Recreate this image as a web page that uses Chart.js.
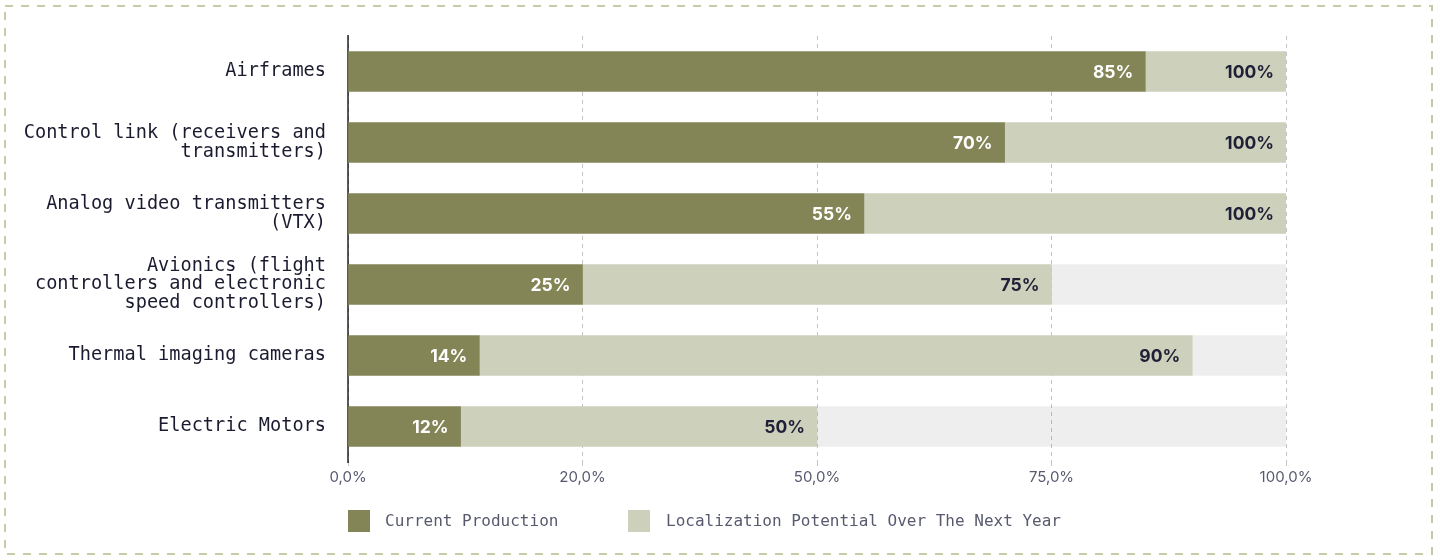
<!DOCTYPE html>
<html>
<head>
<meta charset="utf-8">
<script src="https://cdn.jsdelivr.net/npm/chart.js@4.4.0/dist/chart.umd.min.js"></script>
<style>
  html, body { margin: 0; padding: 0; background: #fff; }
  #wrap { position: relative; width: 1441px; height: 556px; }
  #legend { position: absolute; left: 0; top: 510px; width: 1441px; height: 22px;
            font-family: "DejaVu Sans Mono", monospace; font-size: 16px; color: #575a6e; }
  .item { position: absolute; top: 0; height: 22px; line-height: 22px; white-space: nowrap; }
  .box { position: absolute; top: 0; width: 22px; height: 22px; }
</style>
</head>
<body>
<div id="wrap">
  <canvas id="chart" width="1441" height="556"></canvas>
  <div id="legend"></div>
</div>
<script>
// categories (multi-line labels as in the picture)
const categories = [
  ['Airframes'],
  ['Control link (receivers and', 'transmitters)'],
  ['Analog video transmitters', '(VTX)'],
  ['Avionics (flight', 'controllers and electronic', 'speed controllers)'],
  ['Thermal imaging cameras'],
  ['Electric Motors']
];

// values in %
const currentProduction = [85, 70, 55, 25, 14, 12];
const localizationPotential = [100, 100, 100, 75, 90, 50];

// x tick labels as printed (one per 25-step tick)
const xTickLabels = ['0,0%', '20,0%', '50,0%', '75,0%', '100,0%'];

const seriesNames = ['Current Production', 'Localization Potential Over The Next Year'];
const COLORS = { current: '#838556', potential: '#cdd0bb', rest: 'rgba(0,0,0,0.067)' };

const extra = localizationPotential.map((v, i) => v - currentProduction[i]);
const rest = localizationPotential.map(v => 100 - v);

// dashed frame round the whole chart
const framePlugin = {
  id: 'frame',
  beforeDraw(chart) {
    const ctx = chart.ctx;
    ctx.save();
    ctx.strokeStyle = '#c5cca6';
    ctx.lineWidth = 2;
    ctx.setLineDash([8, 8]);
    ctx.strokeRect(5, 6, 1427, 548);
    ctx.restore();
  }
};

// value labels at the end of each segment
const valueLabels = {
  id: 'valueLabels',
  afterDatasetsDraw(chart) {
    const ctx = chart.ctx;
    ctx.save();
    ctx.font = '700 17.5px Inter, sans-serif';
    ctx.textAlign = 'right';
    ctx.textBaseline = 'middle';
    const m0 = chart.getDatasetMeta(0).data;
    const m1 = chart.getDatasetMeta(1).data;
    m0.forEach((bar, i) => {
      ctx.fillStyle = '#ffffff';
      ctx.fillText(currentProduction[i] + '%', bar.x - 12, bar.y + 1);
    });
    m1.forEach((bar, i) => {
      ctx.fillStyle = '#1f2037';
      ctx.fillText(localizationPotential[i] + '%', bar.x - 12, bar.y + 1);
    });
    ctx.restore();
  }
};

new Chart(document.getElementById('chart'), {
  type: 'bar',
  data: {
    labels: categories,
    datasets: [
      { label: seriesNames[0], data: currentProduction, backgroundColor: COLORS.current, barThickness: 40 },
      { label: seriesNames[1], data: extra, backgroundColor: COLORS.potential, barThickness: 40 },
      { label: 'rest', data: rest, backgroundColor: COLORS.rest, barThickness: 40 }
    ]
  },
  options: {
    indexAxis: 'y',
    responsive: false,
    animation: false,
    layout: { padding: { left: 0, right: 155, top: 36, bottom: 0 } },
    plugins: { legend: { display: false }, tooltip: { enabled: false } },
    scales: {
      x: {
        stacked: true,
        min: 0,
        max: 100,
        afterFit(scale) { scale.height = 94; },
        border: { display: false, dash: [4, 4] },
        grid: {
          color: '#c4c4c4',
          lineWidth: 1,
          tickLength: 5,
          tickColor: '#c4c4c4',
          tickBorderDash: [4, 4]
        },
        ticks: {
          stepSize: 25,
          padding: 1,
          color: '#575a6e',
          font: { family: 'Inter', size: 15 },
          callback: (v, i) => xTickLabels[i]
        }
      },
      y: {
        stacked: true,
        z: 1,
        afterFit(scale) { scale.width = 348; },
        border: { display: true, color: 'rgba(0,0,0,0.65)', width: 2 },
        grid: { display: false, drawTicks: false },
        ticks: {
          padding: 22,
          color: '#1b1b30',
          font: { family: 'DejaVu Sans Mono', size: 18.6, lineHeight: 1.0 }
        }
      }
    }
  },
  plugins: [framePlugin, valueLabels]
});

// legend
const legend = document.getElementById('legend');
const legendItems = [
  { name: seriesNames[0], color: COLORS.current, box: 348, text: 385 },
  { name: seriesNames[1], color: COLORS.potential, box: 628, text: 666 }
];
legendItems.forEach(it => {
  const b = document.createElement('div');
  b.className = 'box';
  b.style.left = it.box + 'px';
  b.style.background = it.color;
  legend.appendChild(b);
  const t = document.createElement('div');
  t.className = 'item';
  t.style.left = it.text + 'px';
  t.textContent = it.name;
  legend.appendChild(t);
});
</script>
</body>
</html>
